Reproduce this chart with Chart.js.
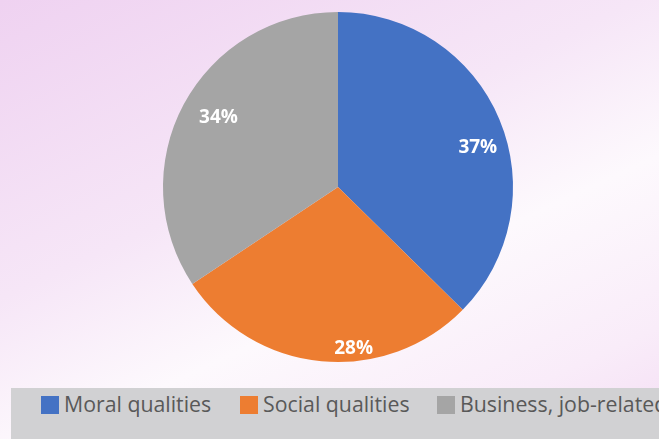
<!DOCTYPE html>
<html>
<head>
<meta charset="utf-8">
<script src="https://cdn.jsdelivr.net/npm/chart.js@4"></script>
<style>
  html, body { margin: 0; padding: 0; }
  body {
    width: 659px; height: 439px; overflow: hidden; position: relative;
    background: linear-gradient(155deg, #efd2f1 0%, #f6e6f7 40%, #fdf9fd 62%, #f9ecf9 85%, #f4def4 100%);
    font-family: "Open Sans", "Noto Sans", sans-serif;
  }
  .wrap { position: absolute; left: 0; top: 0; width: 659px; height: 439px; }
  .legend {
    position: absolute; left: 11px; top: 388px; width: 660px; height: 51px;
    background: #d1d1d3; overflow: hidden; white-space: nowrap;
    font-size: 21.3px; color: #595959;
  }
  .legend-item { position: absolute; top: 3px; line-height: 26px; }
  .legend-dot { display: inline-block; width: 18px; height: 18px; vertical-align: -2px; margin-right: 5px; }
</style>
</head>
<body>
<div class="wrap"><canvas id="c" width="659" height="439"></canvas></div>
<div class="legend" id="legend"></div>
<script>
const CATEGORIES = ['Moral qualities', 'Social qualities', 'Business, job-related'];
const VALUES = [37, 28, 34];
const LABELS = ['37%', '28%', '34%'];
const COLORS = ['#4472c4', '#ed7d31', '#a5a5a5'];

// per-slice label placement (fraction of radius, angle nudge in degrees)
const LABEL_POS = [{ f: 0.83, da: 7 }, { f: 0.925, da: -11 }, { f: 0.79, da: 2 }];

const pieLabels = {
  id: 'pieLabels',
  afterDatasetsDraw(chart) {
    const ctx = chart.ctx;
    const arcs = chart.getDatasetMeta(0).data;
    ctx.save();
    ctx.fillStyle = '#fff';
    ctx.font = 'bold 19px "Open Sans", sans-serif';
    ctx.textAlign = 'center';
    ctx.textBaseline = 'middle';
    arcs.forEach((a, i) => {
      const p = LABEL_POS[i];
      const ang = (a.startAngle + a.endAngle) / 2 + p.da * Math.PI / 180;
      const r = a.outerRadius * p.f;
      ctx.fillText(LABELS[i], a.x + Math.cos(ang) * r, a.y + Math.sin(ang) * r);
    });
    ctx.restore();
  }
};

new Chart(document.getElementById('c'), {
  type: 'pie',
  data: {
    labels: CATEGORIES,
    datasets: [{ data: VALUES, backgroundColor: COLORS, borderWidth: 0 }]
  },
  options: {
    responsive: false, animation: false,
    layout: { padding: { top: 12, bottom: 77, left: 163, right: 146 } },
    plugins: { legend: { display: false }, tooltip: { enabled: false } }
  },
  plugins: [pieLabels]
});

const LEGEND_X = [30, 229, 426];
const lg = document.getElementById('legend');
CATEGORIES.forEach((c, i) => {
  const s = document.createElement('span');
  s.className = 'legend-item';
  s.style.left = LEGEND_X[i] + 'px';
  s.innerHTML = '<span class="legend-dot" style="background:' + COLORS[i] + '"></span>' + c;
  lg.appendChild(s);
});
</script>
</body>
</html>
